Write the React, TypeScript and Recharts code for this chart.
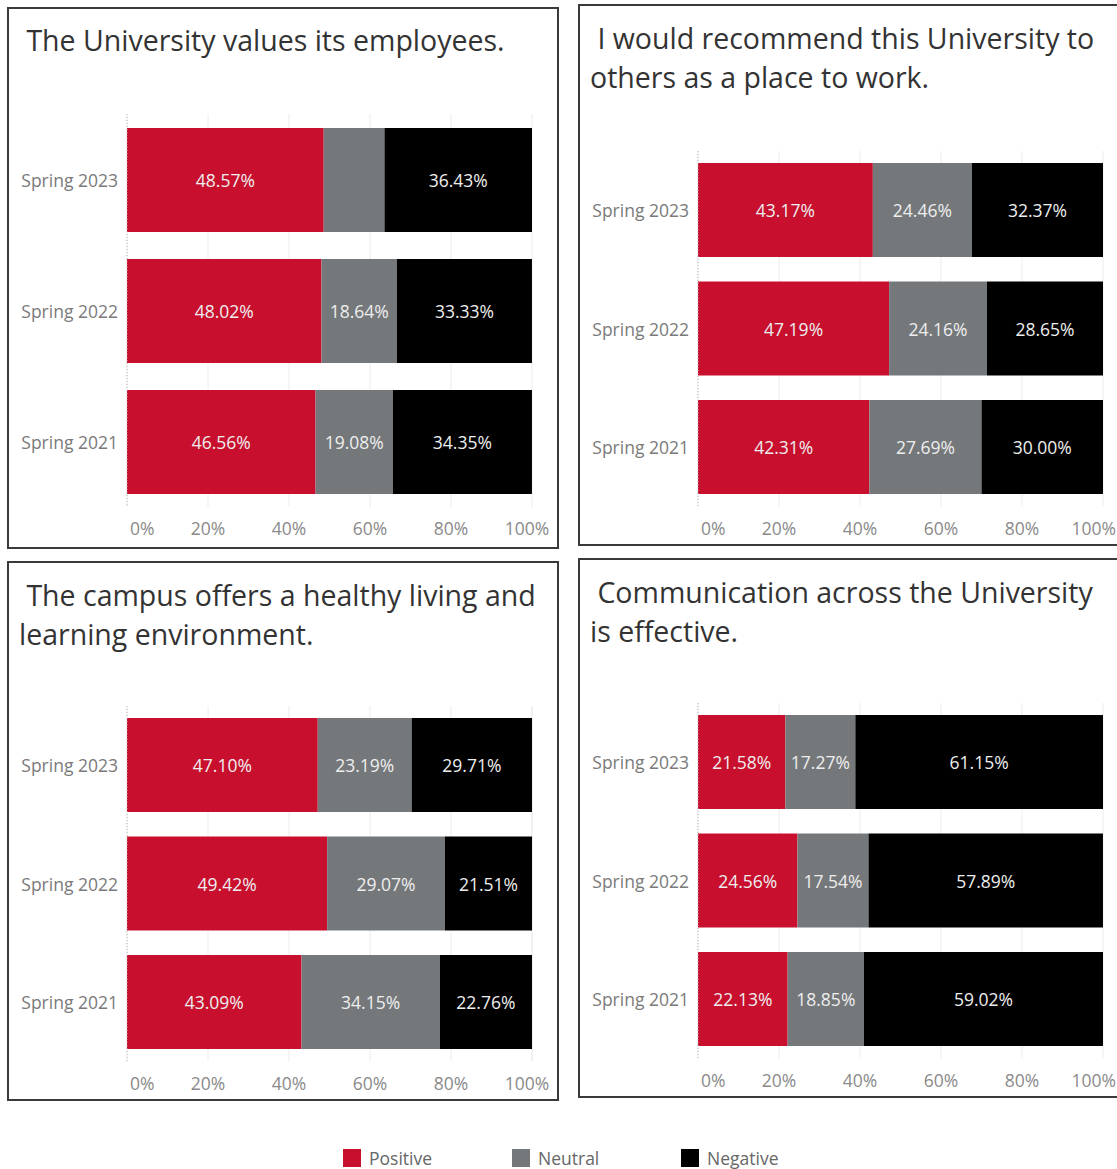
import React from 'react';
import { BarChart, Bar, XAxis, YAxis, CartesianGrid, LabelList } from 'recharts';

// Survey periods, top to bottom
const periods = ['Spring 2023', 'Spring 2022', 'Spring 2021'];
const xTicks = [0, 20, 40, 60, 80, 100];
const seriesNames = ['Positive', 'Neutral', 'Negative'];
const seriesColors = ['#C8102E', '#75787B', '#000000'];

// The University values its employees.
const valuesTitle = [' The University values its employees.'];
const valuesPositive = [48.57, 48.02, 46.56];
const valuesNeutral = [15.0, 18.64, 19.08];
const valuesNegative = [36.43, 33.33, 34.35];

// I would recommend this University ...
const recommendTitle = [' I would recommend this University to', 'others as a place to work.'];
const recommendPositive = [43.17, 47.19, 42.31];
const recommendNeutral = [24.46, 24.16, 27.69];
const recommendNegative = [32.37, 28.65, 30.0];

// The campus offers a healthy living ...
const campusTitle = [' The campus offers a healthy living and', 'learning environment.'];
const campusPositive = [47.1, 49.42, 43.09];
const campusNeutral = [23.19, 29.07, 34.15];
const campusNegative = [29.71, 21.51, 22.76];

// Communication across the University ...
const commTitle = [' Communication across the University', 'is effective.'];
const commPositive = [21.58, 24.56, 22.13];
const commNeutral = [17.27, 17.54, 18.85];
const commNegative = [61.15, 57.89, 59.02];

const FONT = '"Open Sans", "Noto Sans", sans-serif';
const SMALL = 17.5;
const Y_AXIS_W = 127;
const PLOT_W = 405;

const XTick = (props: any) => {
  const { x, y, payload, tight } = props;
  let anchor = 'middle';
  let dx = 0;
  if (payload.value === 0) {
    anchor = 'start';
    dx = 3;
  } else if (payload.value === 100) {
    // right-hand panels touch the page edge, keep the label inside
    if (tight) {
      anchor = 'end';
      dx = 13;
    } else {
      dx = -5;
    }
  }
  return (
    <text x={x + dx} y={y + 21} textAnchor={anchor} dominantBaseline="central" fill="#8a8a8a" fontSize={SMALL} fontFamily={FONT}>
      {payload.value}%
    </text>
  );
};

const YTick = (props: any) => {
  const { x, y, payload } = props;
  return (
    <text x={x - 9} y={y} textAnchor="end" dominantBaseline="central" fill="#7a7a7a" fontSize={SMALL} fontFamily={FONT}>
      {payload.value}
    </text>
  );
};

const SegmentLabel = (props: any) => {
  const { x, y, width, height, value } = props;
  // too narrow segments get no label
  if (width < 65) return null;
  return (
    <text x={x + width / 2} y={y + height / 2} textAnchor="middle" dominantBaseline="central" fill="#eeeeee" fontSize={SMALL} fontFamily={FONT}>
      {Number(value).toFixed(2)}%
    </text>
  );
};

interface PanelProps {
  title: string[];
  pos: number[];
  neu: number[];
  neg: number[];
  box: { left: number; top: number; width: number; height: number };
  titleTop: number;
  plotLeft: number;
  plotTop: number;
  band: number;
  barSize: number;
  tight?: boolean;
}

const Panel: React.FC<PanelProps> = ({ title, pos, neu, neg, box, titleTop, plotLeft, plotTop, band, barSize, tight }) => {
  const data = periods.map((p, i) => ({ period: p, Positive: pos[i], Neutral: neu[i], Negative: neg[i] }));
  const marginTop = 20;
  const plotH = band * periods.length;
  const xAxisH = 40;
  return (
    <>
      <div
        style={{
          position: 'absolute',
          left: box.left,
          top: box.top,
          width: box.width,
          height: box.height,
          border: '2px solid #3a3a3a',
          boxSizing: 'border-box',
        }}
      />
      {title.map((line, i) => (
        <div
          key={i}
          style={{
            position: 'absolute',
            left: box.left + 12,
            top: titleTop + i * 39 - 20,
            height: 40,
            lineHeight: '40px',
            whiteSpace: 'pre',
            fontFamily: FONT,
            fontSize: 28.5,
            fontWeight: 500,
            color: '#333',
          }}
        >
          {line}
        </div>
      ))}
      <div style={{ position: 'absolute', left: plotLeft - Y_AXIS_W, top: plotTop - marginTop }}>
        <BarChart
          width={Y_AXIS_W + PLOT_W + 30}
          height={marginTop + plotH + xAxisH}
          data={data}
          layout="vertical"
          margin={{ top: marginTop, right: 30, left: 0, bottom: 0 }}
        >
          <CartesianGrid horizontal={false} stroke="#ececec" />
          <XAxis
            type="number"
            domain={[0, 100]}
            ticks={xTicks}
            height={xAxisH}
            axisLine={false}
            tickLine={false}
            tickSize={0}
            tickMargin={0}
            tick={<XTick tight={tight} />}
            interval={0}
          />
          <YAxis
            type="category"
            dataKey="period"
            width={Y_AXIS_W}
            axisLine={{ stroke: '#bbbbbb', strokeDasharray: '1 2' }}
            tickLine={false}
            tickSize={0}
            tickMargin={0}
            tick={<YTick />}
          />
          {seriesNames.map((name, i) => (
            <Bar key={name} dataKey={name} stackId="s" fill={seriesColors[i]} barSize={barSize} isAnimationActive={false}>
              <LabelList dataKey={name} content={<SegmentLabel />} />
            </Bar>
          ))}
        </BarChart>
      </div>
    </>
  );
};

const Legend: React.FC = () => (
  <>
    {seriesNames.map((name, i) => (
      <div key={name} style={{ position: 'absolute', left: 343 + i * 169, top: 1149, display: 'flex', alignItems: 'center' }}>
        <div style={{ width: 18, height: 18, background: seriesColors[i] }} />
        <span style={{ marginLeft: 8, fontFamily: FONT, fontSize: SMALL, color: '#666', lineHeight: '18px' }}>{name}</span>
      </div>
    ))}
  </>
);

export default function App() {
  return (
    <div style={{ position: 'absolute', left: 0, top: 0, width: 1117, height: 1169, overflow: 'hidden', background: '#fff' }}>
      <Panel
        title={valuesTitle}
        pos={valuesPositive}
        neu={valuesNeutral}
        neg={valuesNegative}
        box={{ left: 7, top: 7, width: 552, height: 542 }}
        titleTop={40}
        plotLeft={127}
        plotTop={114}
        band={131}
        barSize={104}
      />
      <Panel
        title={recommendTitle}
        pos={recommendPositive}
        neu={recommendNeutral}
        neg={recommendNegative}
        box={{ left: 578, top: 4, width: 560, height: 542 }}
        titleTop={38}
        plotLeft={698}
        plotTop={150.75}
        band={118.5}
        barSize={94}
        tight
      />
      <Panel
        title={campusTitle}
        pos={campusPositive}
        neu={campusNeutral}
        neg={campusNegative}
        box={{ left: 7, top: 561, width: 552, height: 540 }}
        titleTop={595}
        plotLeft={127}
        plotTop={705.75}
        band={118.5}
        barSize={94}
      />
      <Panel
        title={commTitle}
        pos={commPositive}
        neu={commNeutral}
        neg={commNegative}
        box={{ left: 578, top: 558, width: 560, height: 540 }}
        titleTop={592}
        plotLeft={698}
        plotTop={702.75}
        band={118.5}
        barSize={94}
        tight
      />
      <Legend />
    </div>
  );
}
